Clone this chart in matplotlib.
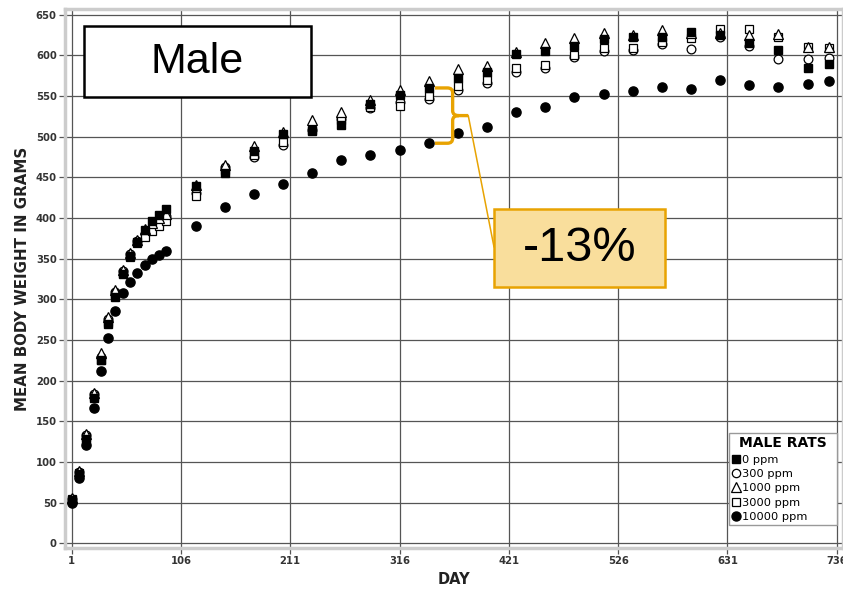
import numpy as np
import matplotlib
matplotlib.use("Agg")
import matplotlib.pyplot as plt
from matplotlib.patches import Rectangle, PathPatch, ConnectionPatch
from matplotlib.path import Path

# study days
days = [1, 8, 15, 22, 29, 36, 43, 50, 57, 64, 71, 78, 85, 92,
        120, 148, 176, 204, 232, 260, 288, 316, 344, 372, 400, 428,
        456, 484, 512, 540, 568, 596, 624, 652, 680, 708, 729]

# mean body weight (g) per dose group
ppm_0 = [53, 85, 128, 179, 225, 270, 303, 331, 353, 371, 385, 396, 404, 411,
         439, 455, 482, 503, 507, 515, 540, 551, 560, 572, 580, 602,
         606, 611, 620, 623, 623, 629, 625, 615, 607, 585, 590]
ppm_300 = [55, 88, 133, 183, 229, 276, 309, 335, 356, 372, 380, 388, 393, 402,
           431, 463, 475, 490, 508, 522, 535, 543, 547, 557, 566, 579,
           584, 598, 606, 607, 614, 608, 623, 611, 595, 596, 597]
ppm_1000 = [56, 89, 135, 185, 234, 278, 312, 336, 357, 373, 386, 394, 400, 405,
            441, 465, 488, 506, 520, 531, 545, 558, 569, 583, 587, 604,
            615, 621, 627, 625, 631, 628, 628, 625, 626, 610, 610]
ppm_3000 = [54, 86, 131, 181, 226, 272, 306, 332, 352, 369, 377, 384, 390, 396,
            427, 459, 477, 494, 508, 520, 537, 538, 550, 562, 570, 584,
            588, 601, 609, 609, 616, 622, 633, 633, 623, 610, 609]
ppm_10000 = [50, 80, 121, 167, 212, 252, 286, 308, 321, 333, 342, 350, 354, 360,
             390, 413, 429, 442, 456, 471, 477, 484, 492, 504, 512, 530,
             537, 549, 552, 556, 561, 559, 570, 564, 561, 565, 569]

x_ticks = [1, 106, 211, 316, 421, 526, 631, 736]
y_ticks = list(range(0, 651, 50))

# day at which the gap is marked
gap_day = 344
gap_label = "-13%"

ORANGE = "#E8A302"

fig = plt.figure(figsize=(8.43, 5.89), dpi=100)
ax = fig.add_axes([0.0771, 0.0696, 0.9229, 0.9143])

ax.plot(days, ppm_300, "o", ms=6.3, mfc="white", mec="black", mew=0.9, zorder=3)
ax.plot(days, ppm_3000, "s", ms=6.0, mfc="white", mec="black", mew=0.9, zorder=3)
ax.plot(days, ppm_1000, "^", ms=6.5, mfc="white", mec="black", mew=0.9, zorder=3)
ax.plot(days, ppm_0, "s", ms=6.0, mfc="black", mec="black", zorder=4)
ax.plot(days, ppm_10000, "o", ms=6.6, mfc="black", mec="black", zorder=4)

ax.set_xlim(-5.4, 742)
ax.set_ylim(-5.8, 656.5)
ax.set_xticks(x_ticks)
ax.set_yticks(y_ticks)
ax.grid(True, color="#555555", lw=0.9)
ax.set_axisbelow(True)
for s in ax.spines.values():
    s.set_color("#cccccc")
    s.set_linewidth(2.5)
ax.tick_params(length=4, width=0.9, color="#555555", labelsize=7.2,
               labelcolor="#333333", pad=2)
for lab in ax.get_xticklabels() + ax.get_yticklabels():
    lab.set_fontweight("bold")

ax.set_xlabel("DAY", fontsize=10.5, fontweight="bold", color="#222222", labelpad=4)
ax.set_ylabel("MEAN BODY WEIGHT IN GRAMS", fontsize=10.8, fontweight="bold",
              color="#222222", labelpad=4)

# legend
handles = [
    plt.Line2D([], [], ls="", marker="s", ms=6, mfc="black", mec="black"),
    plt.Line2D([], [], ls="", marker="o", ms=6, mfc="white", mec="black", mew=0.9),
    plt.Line2D([], [], ls="", marker="^", ms=6.5, mfc="white", mec="black", mew=0.9),
    plt.Line2D([], [], ls="", marker="s", ms=6, mfc="white", mec="black", mew=0.9),
    plt.Line2D([], [], ls="", marker="o", ms=6.5, mfc="black", mec="black"),
]
leg = ax.legend(handles, ["0 ppm", "300 ppm", "1000 ppm", "3000 ppm", "10000 ppm"],
                title="MALE RATS", loc="upper left", mode="expand",
                bbox_to_anchor=(729 / 843, 1 - 528 / 589, 108 / 843, 95 / 589),
                bbox_transform=fig.transFigure,
                fontsize=8.2, title_fontproperties={"weight": "bold", "size": 10},
                handlelength=0.7, handletextpad=0.15, labelspacing=0.38,
                borderpad=0.3, borderaxespad=0, fancybox=False, framealpha=1,
                edgecolor="#999999")
leg.get_frame().set_linewidth(1.0)
leg._legend_box.align = "center"
leg.set_zorder(6)

# "Male" box
fig.patches.append(Rectangle((84 / 843, 1 - 97 / 589), 227 / 843, 71 / 589,
                             transform=fig.transFigure, facecolor="white",
                             edgecolor="black", lw=1.8, zorder=5))
fig.text(197.5 / 843, 1 - 62 / 589, "Male", fontsize=31, family="Liberation Sans",
         ha="center", va="center", zorder=6)

# brace between control and top dose
i = days.index(gap_day)
top, bot = ppm_0[i], ppm_10000[i]
mid = (top + bot) / 2
x0, xv, xt = gap_day + 6, gap_day + 23, gap_day + 38
verts = [(x0, top), (xv - 5, top), (xv, top), (xv, top - 6),
         (xv, mid + 6), (xv, mid), (xv + 6, mid), (xt, mid),
         (xv + 6, mid), (xv, mid), (xv, mid - 6),
         (xv, bot + 6), (xv, bot), (xv - 5, bot), (x0, bot)]
codes = [Path.MOVETO, Path.LINETO, Path.CURVE3, Path.CURVE3,
         Path.LINETO, Path.CURVE3, Path.CURVE3, Path.LINETO,
         Path.MOVETO, Path.CURVE3, Path.CURVE3,
         Path.LINETO, Path.CURVE3, Path.CURVE3, Path.LINETO]
ax.add_patch(PathPatch(Path(verts, codes), fill=False, edgecolor=ORANGE,
                       lw=2.4, capstyle="butt", zorder=5))

# label box and its pointer
box_x, box_y, box_w, box_h = 494 / 843, 1 - 287 / 589, 171 / 843, 78 / 589
fig.patches.append(Rectangle((box_x, box_y), box_w, box_h, transform=fig.transFigure,
                             facecolor="#F9DE9C", edgecolor=ORANGE, lw=1.8, zorder=5))
fig.text(box_x + box_w / 2, box_y + box_h / 2, gap_label, fontsize=35,
         family="Liberation Sans", ha="center", va="center", zorder=6)
con = ConnectionPatch(xyA=(xt, mid), coordsA=ax.transData,
                      xyB=(box_x, 1 - 247 / 589), coordsB=fig.transFigure,
                      color=ORANGE, lw=1.1, zorder=5)
fig.add_artist(con)

fig.savefig("out.png", dpi=100)
